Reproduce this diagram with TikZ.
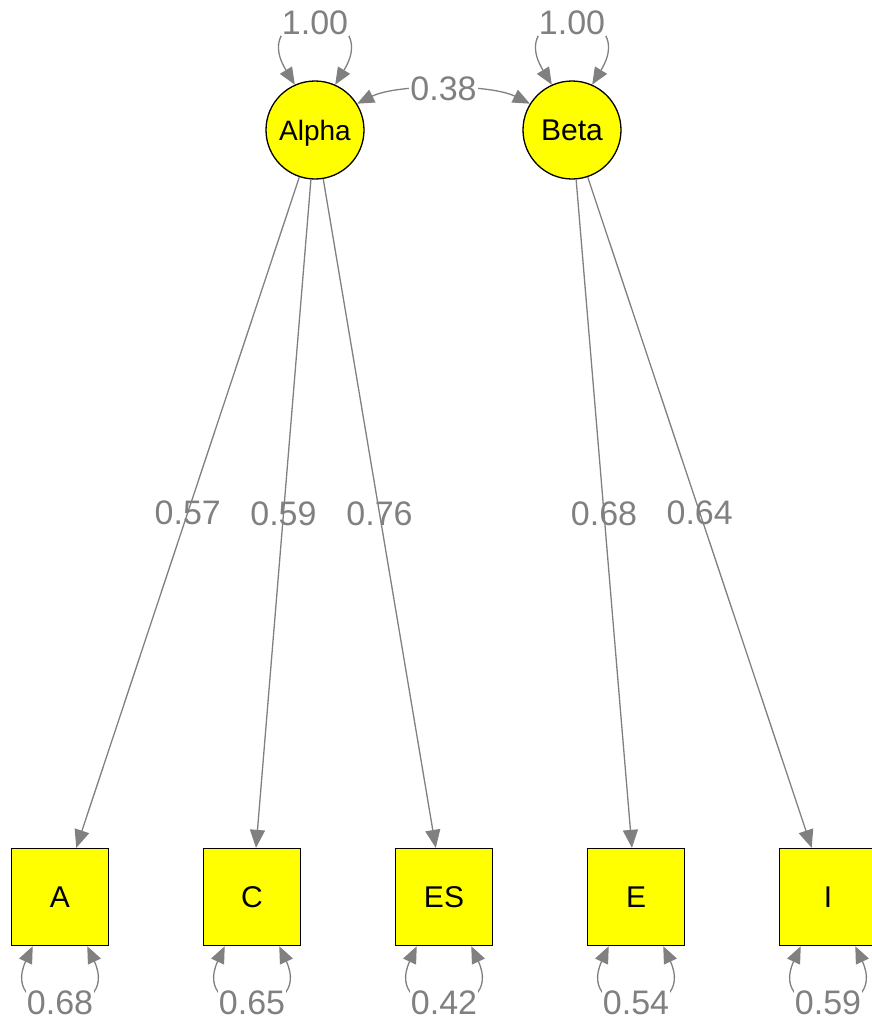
\documentclass[tikz,border=0pt]{standalone}
\usepackage{fontspec}
\setmainfont{Liberation Sans}
\usetikzlibrary{arrows.meta}
\definecolor{nodeyellow}{HTML}{FFFF00}
\definecolor{edgegray}{HTML}{808080}
\begin{document}
\begin{tikzpicture}[x=1pt,y=-1pt,
  latent/.style={circle,draw=black,line width=1.3pt,fill=nodeyellow,minimum size=98pt,inner sep=0pt,text depth=0pt,font=\fontsize{30}{30}\selectfont},
  manifest/.style={rectangle,draw=black,line width=1.3pt,fill=nodeyellow,minimum size=97pt,inner sep=0pt,text depth=0pt,font=\fontsize{30}{30}\selectfont},
  load/.style={draw=edgegray,line width=1.3pt,-{Triangle[length=18pt,width=15pt]}},
  dbl/.style={draw=edgegray,line width=1.3pt,{Triangle[length=17pt,width=14pt]}-{Triangle[length=17pt,width=14pt]}},
  elabel/.style={text=edgegray,font=\fontsize{34}{34}\selectfont,inner sep=1pt},
  blabel/.style={elabel,fill=white}
  ]
\useasboundingbox (0,0) rectangle (871,1021);
% latent variables
\node[latent,font=\fontsize{28}{28}\selectfont] (Alpha) at (315,130) {Alpha};
\node[latent] (Beta) at (572,130) {Beta};
% manifest variables
\node[manifest] (A)  at (60,897)  {A};
\node[manifest] (C)  at (252,897) {C};
\node[manifest] (ES) at (444,897) {ES};
\node[manifest] (E)  at (636,897) {E};
\node[manifest] (I)  at (828,897) {I};
% loadings
\draw[load] (Alpha) -- node[elabel]{0.57} (A);
\draw[load] (Alpha) -- node[elabel]{0.59} (C);
\draw[load] (Alpha) -- node[elabel]{0.76} (ES);
\draw[load] (Beta) -- node[elabel]{0.68} (E);
\draw[load] (Beta) -- node[elabel]{0.64} (I);
% covariance
\draw[dbl] (Alpha.32) .. controls +(40,-20) and +(-40,-20) .. node[blabel,pos=0.5]{0.38} (Beta.148);
% latent variances
\draw[dbl] (Alpha.114) .. controls +(-50,-82) and +(50,-82) .. node[blabel,pos=0.5]{1.00} (Alpha.66);
\draw[dbl] (Beta.114) .. controls +(-50,-82) and +(50,-82) .. node[blabel,pos=0.5]{1.00} (Beta.66);
% residual variances
\draw[dbl] (A.-119) .. controls +(-35,75) and +(35,75) .. node[blabel,pos=0.5]{0.68} (A.-61);
\draw[dbl] (C.-119) .. controls +(-35,75) and +(35,75) .. node[blabel,pos=0.5]{0.65} (C.-61);
\draw[dbl] (ES.-119) .. controls +(-35,75) and +(35,75) .. node[blabel,pos=0.5]{0.42} (ES.-61);
\draw[dbl] (E.-119) .. controls +(-35,75) and +(35,75) .. node[blabel,pos=0.5]{0.54} (E.-61);
\draw[dbl] (I.-119) .. controls +(-35,75) and +(35,75) .. node[blabel,pos=0.5]{0.59} (I.-61);
\end{tikzpicture}
\end{document}
